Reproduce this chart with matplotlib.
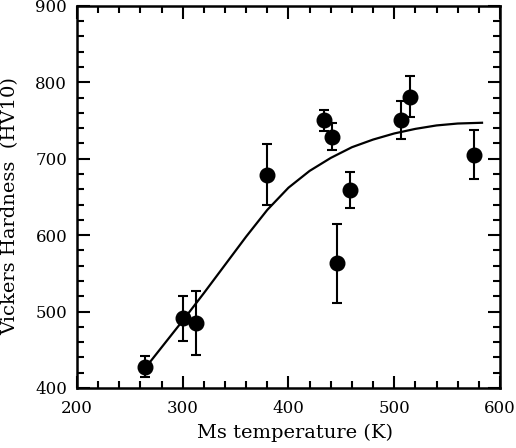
import matplotlib
matplotlib.use("Agg")
import matplotlib.pyplot as plt
from matplotlib.ticker import MultipleLocator

# measured points (Ms temperature, hardness, error)
ms_temp = [264, 300, 313, 380, 434, 441, 446, 458, 506, 515, 575]
hardness = [428, 491, 485, 679, 750, 729, 563, 659, 751, 781, 705]
hard_err = [14, 29, 42, 40, 14, 18, 52, 24, 25, 27, 32]

# fitted curve
curve_x = [264, 280, 300, 320, 340, 360, 380, 400, 420, 440, 460, 480, 500, 520, 540, 560, 583]
curve_y = [425, 453, 488, 524, 561, 598, 633, 662, 684, 701, 715, 725, 733, 739, 743.5, 746, 747]

plt.rcParams['font.family'] = ['DejaVu Serif']

fig = plt.figure(figsize=(5.16, 4.48), dpi=100)
ax = fig.add_axes([0.149, 0.134, 0.82, 0.853])

ax.plot(curve_x, curve_y, color='black', lw=1.6)
ax.errorbar(ms_temp, hardness, yerr=hard_err, fmt='o', color='black',
            markersize=10.5, elinewidth=1.5, capsize=3.8, capthick=1.5)

ax.set_xlim(200, 600)
ax.set_ylim(400, 900)
ax.xaxis.set_major_locator(MultipleLocator(100))
ax.xaxis.set_minor_locator(MultipleLocator(20))
ax.yaxis.set_major_locator(MultipleLocator(100))
ax.yaxis.set_minor_locator(MultipleLocator(20))

ax.tick_params(which='both', direction='in', top=True, right=True, width=1.5, labelsize=12)
ax.tick_params(which='major', length=9)
ax.tick_params(which='minor', length=5)
ax.tick_params(axis='x', pad=9)
ax.tick_params(axis='y', pad=7)
for s in ax.spines.values():
    s.set_linewidth(1.8)

ax.set_xlabel("Ms temperature (K)", fontsize=14, va='center')
ax.set_ylabel("Vickers Hardness  (HV10)", fontsize=14, va='center')
ax.xaxis.set_label_coords(0.515, -0.118)
ax.yaxis.set_label_coords(-0.158, 0.475)

fig.savefig("out.png", dpi=100)
